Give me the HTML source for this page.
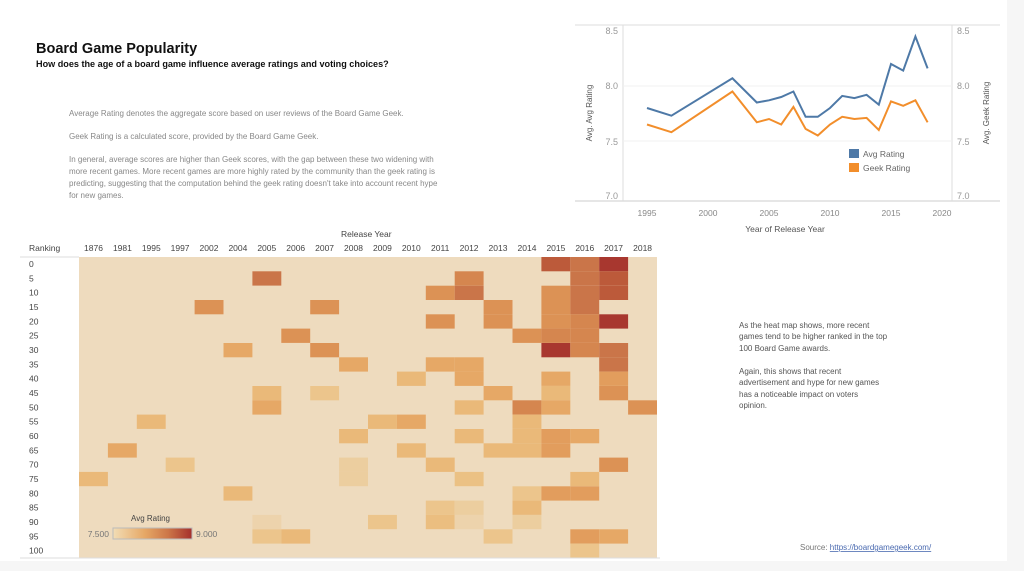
<!DOCTYPE html>
<html><head><meta charset="utf-8"><style>
html,body{margin:0;padding:0;background:#f6f6f6;}
svg{display:block;font-family:"Liberation Sans",sans-serif;}
</style></head><body>
<svg id="s" width="1024" height="571" viewBox="0 0 1024 571" xmlns="http://www.w3.org/2000/svg">
<rect x="0" y="0" width="1007" height="561" fill="#fff"/>
<text x="36" y="53" font-size="14.5" font-weight="bold" fill="#111">Board Game Popularity</text>
<text x="36" y="67" font-size="9.1" font-weight="bold" fill="#111">How does the age of a board game influence average ratings and voting choices?</text>
<g font-size="8" fill="#888">
<text x="69" y="116">Average Rating denotes the aggregate score based on user reviews of the Board Game Geek.</text>
<text x="69" y="139">Geek Rating is a calculated score, provided by the Board Game Geek.</text>
<text x="69" y="162">In general, average scores are higher than Geek scores, with the gap between these two widening with</text>
<text x="69" y="174">more recent games. More recent games are more highly rated by the community than the geek rating is</text>
<text x="69" y="186">predicting, suggesting that the computation behind the geek rating doesn't take into account recent hype</text>
<text x="69" y="198">for new games.</text>
</g>
<line x1="575" y1="25" x2="1000" y2="25" stroke="#ddd"/>
<line x1="575" y1="201" x2="1000" y2="201" stroke="#ccc"/>
<line x1="623" y1="25" x2="623" y2="201" stroke="#ddd"/>
<line x1="952" y1="25" x2="952" y2="201" stroke="#ddd"/>
<g stroke="#f0f0f0"><line x1="623" y1="86" x2="952" y2="86"/><line x1="623" y1="141" x2="952" y2="141"/></g>
<g font-size="9" fill="#999" text-anchor="end">
<text x="618" y="34">8.5</text><text x="618" y="89">8.0</text><text x="618" y="145">7.5</text><text x="618" y="199">7.0</text>
</g>
<g font-size="9" fill="#999">
<text x="957" y="34">8.5</text><text x="957" y="89">8.0</text><text x="957" y="145">7.5</text><text x="957" y="199">7.0</text>
</g>
<g font-size="8.5" fill="#888" text-anchor="middle">
<text x="647" y="216">1995</text><text x="708" y="216">2000</text><text x="769" y="216">2005</text><text x="830" y="216">2010</text><text x="891" y="216">2015</text><text x="942" y="216">2020</text>
</g>
<text x="785" y="232" font-size="8.5" fill="#555" text-anchor="middle">Year of Release Year</text>
<text transform="translate(592,113) rotate(-90)" font-size="8" fill="#555" text-anchor="middle">Avg. Avg Rating</text>
<text transform="translate(989,113) rotate(-90)" font-size="8" fill="#555" text-anchor="middle">Avg. Geek Rating</text>
<polyline id="avg" fill="none" stroke="#4e79a7" stroke-width="2"/>
<polyline id="geek" fill="none" stroke="#f28e2b" stroke-width="2"/>
<rect x="849" y="149" width="10" height="9" fill="#4e79a7"/>
<rect x="849" y="163" width="10" height="9" fill="#f28e2b"/>
<text x="863" y="157" font-size="8.5" fill="#666">Avg Rating</text>
<text x="863" y="171" font-size="8.5" fill="#666">Geek Rating</text>
<text x="341" y="237" font-size="8.5" fill="#444">Release Year</text>
<text x="29" y="251" font-size="8.5" fill="#444">Ranking</text>
<g id="hm"></g>
<line x1="20" y1="558" x2="660" y2="558" stroke="#ddd"/>
<text x="131" y="521" font-size="8" fill="#444">Avg Rating</text>
<defs><linearGradient id="lg"><stop offset="0" stop-color="#f2ddb5"/><stop offset="0.4" stop-color="#e6a866"/><stop offset="0.7" stop-color="#cc7648"/><stop offset="1" stop-color="#a5302c"/></linearGradient></defs>
<rect x="113" y="528" width="79" height="11" fill="url(#lg)" stroke="#bbb"/>
<text x="109" y="537" font-size="8.5" fill="#777" text-anchor="end">7.500</text>
<text x="196" y="537" font-size="8.5" fill="#777">9.000</text>
<g font-size="8" fill="#555">
<text x="739" y="328">As the heat map shows, more recent</text>
<text x="739" y="339">games tend to be higher ranked in the top</text>
<text x="739" y="351">100 Board Game awards.</text>
<text x="739" y="374">Again, this shows that recent</text>
<text x="739" y="385">advertisement and hype for new games</text>
<text x="739" y="397">has a noticeable impact on voters</text>
<text x="739" y="408">opinion.</text>
<text x="800" y="550" fill="#777">Source: <tspan fill="#4a6ab0" text-decoration="underline">https://boardgamegeek.com/</tspan></text>
</g>
</svg>
<script>
var X=function(y){return 647+(y-1995)*12.2},Y=function(v){return 196-(v-7)*110};
var a=[[1995,7.8],[1997,7.73],[2002,8.07],[2004,7.85],[2005,7.87],[2006,7.9],[2007,7.95],[2008,7.72],[2009,7.72],[2010,7.8],[2011,7.91],[2012,7.89],[2013,7.92],[2014,7.83],[2015,8.2],[2016,8.14],[2017,8.45],[2018,8.16]];
var g=[[1995,7.65],[1997,7.58],[2002,7.95],[2004,7.67],[2005,7.7],[2006,7.65],[2007,7.81],[2008,7.61],[2009,7.55],[2010,7.65],[2011,7.72],[2012,7.7],[2013,7.71],[2014,7.6],[2015,7.86],[2016,7.82],[2017,7.87],[2018,7.67]];
function pts(d){return d.map(function(p){return X(p[0]).toFixed(1)+","+Y(p[1]).toFixed(1)}).join(" ")}
document.getElementById("avg").setAttribute("points",pts(a));
document.getElementById("geek").setAttribute("points",pts(g));
var yrs=["1876","1981","1995","1997","2002","2004","2005","2006","2007","2008","2009","2010","2011","2012","2013","2014","2015","2016","2017","2018"];
var x0=79,cw=28.9,y0=257,rh=14.33;
var col={0.5:"#edd3ac",0.7:"#ecce9f",1:"#ecc58c",1.2:"#ebc184",1.3:"#ebbe80",1.5:"#eab979",2:"#e6a866",2.5:"#e29d5d",3:"#dc9255",3.5:"#d5864f",4:"#ca7549",5:"#bc5a3a",6:"#a8372f"};
var cells={
6:{1:4,9:1.5,10:2,18:0.5,19:1},4:{3:3},8:{3:3,6:3,9:1},7:{5:3,19:1.5},5:{6:2,16:1.5},
2:{11:1.5},1:{13:2},3:{14:1},0:{15:1.5},
9:{7:2,12:1.5,14:0.7,15:0.7},
10:{11:1.5,18:1},11:{8:1.5,11:2,13:1.5},
12:{2:3,4:3,7:2,14:1.5,17:1,18:1.3},
13:{1:3.5,2:4,7:2,8:2,10:1.5,12:1.5,15:1.2,17:0.7,18:0.5},
14:{3:3,4:3,9:2,13:1.5,19:1},
15:{5:3,10:3.5,11:1.5,12:1.5,13:1.5,16:1,17:1.5,18:0.7},
16:{0:5,2:3,3:3,4:3,5:3.5,6:6,8:2,9:1.5,10:2,12:2.5,13:2.5,16:2.5},
17:{0:4,1:4,2:4,3:4,4:3.5,5:3.5,6:3.5,12:2,15:1.5,16:2.5,19:2.5,20:1},
18:{0:6,1:5,2:5,4:6,6:4,7:4,8:2.5,9:3,14:3,19:2},
19:{10:3}};
var s="";
s+='<rect x="'+x0+'" y="'+y0+'" width="'+(cw*20)+'" height="'+(rh*21)+'" fill="#eedbbe"/>';
for(var c in cells)for(var r in cells[c])s+='<rect x="'+(x0+c*cw).toFixed(1)+'" y="'+(y0+r*rh).toFixed(1)+'" width="'+cw.toFixed(1)+'" height="'+rh.toFixed(1)+'" fill="'+col[cells[c][r]]+'"/>';
for(var i=0;i<20;i++)s+='<text x="'+(x0+i*cw+cw/2).toFixed(1)+'" y="251" font-size="8.5" fill="#444" text-anchor="middle">'+yrs[i]+'</text>';
for(var r=0;r<21;r++)s+='<text x="29" y="'+(y0+r*rh+10).toFixed(1)+'" font-size="8.5" fill="#444">'+(r*5)+'</text>';
s+='<line x1="20" y1="'+y0+'" x2="79" y2="'+y0+'" stroke="#ddd"/>';
document.getElementById("hm").innerHTML=s;
</script>
</body></html>
